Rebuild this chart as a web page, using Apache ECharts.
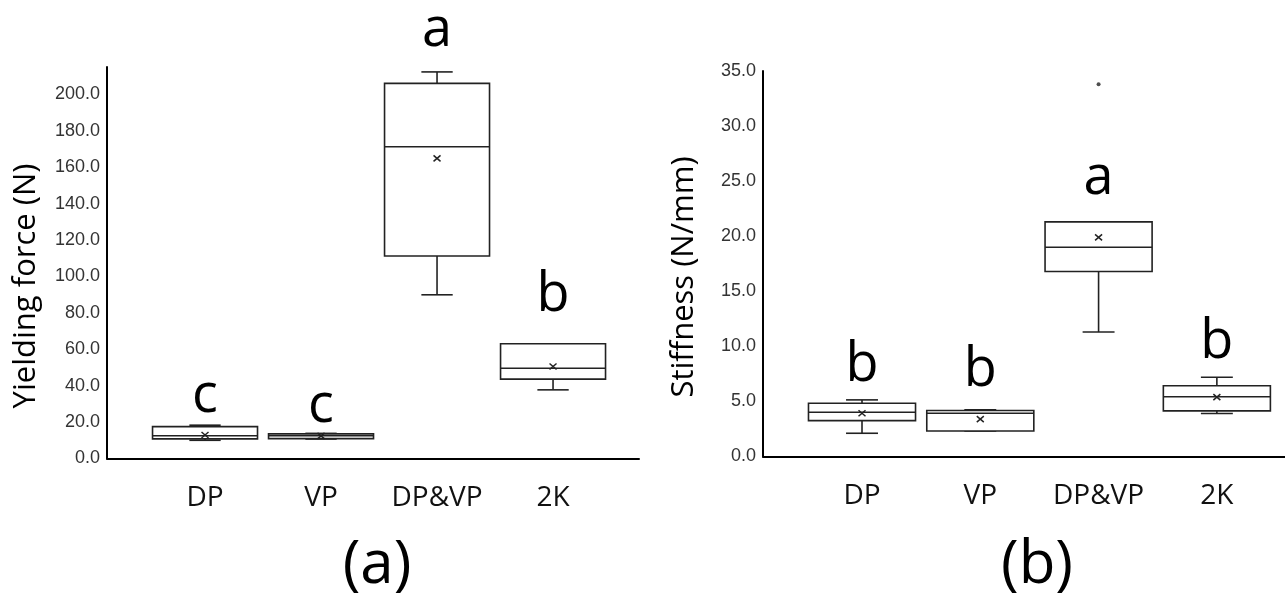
<!DOCTYPE html>
<html>
<head>
<meta charset="utf-8">
<script src="https://cdn.jsdelivr.net/npm/echarts@6/dist/echarts.min.js"></script>
<style>
html, body { margin: 0; padding: 0; background: #fff; }
#main { width: 1285px; height: 605px; }
</style>
</head>
<body>
<div id="main"></div>
<script>
var groups = ['DP', 'VP', 'DP&VP', '2K'];

// yielding force (N): [min, q1, median, q3, max]
var forceBox = [
    [10.0, 10.8, 12.5, 17.5, 18.3],
    [10.7, 10.9, 12.5, 13.5, 13.8],
    [89.9, 111.2, 171.2, 206.0, 212.3],
    [37.7, 43.6, 49.6, 63.0, 63.0]
];
var forceMean = [12.9, 12.4, 164.8, 50.5];
var forceLetters = ['c', 'c', 'a', 'b'];
var forceLetterY = [25.0, 19.7, 226.0, 80.6];

// stiffness (N/mm): [min, q1, median, q3, max]
var stiffBox = [
    [2.11, 3.26, 4.02, 4.84, 5.14],
    [2.32, 2.32, 3.93, 4.17, 4.23],
    [11.3, 16.8, 19.0, 21.3, 21.3],
    [3.90, 4.14, 5.42, 6.42, 7.20]
];
var stiffMean = [3.93, 3.39, 19.9, 5.39];
var stiffOutliers = [[2, 33.8]];
var stiffLetters = ['b', 'b', 'a', 'b'];
var stiffLetterY = [6.8, 6.35, 23.8, 8.85];

var lineColor = '#222';

function boxRows(box, mean) {
    return box.map(function (b, i) {
        return [i].concat(b).concat([mean[i]]);
    });
}
function letterRows(letters, ys) {
    return letters.map(function (t, i) {
        return [i, ys[i], t];
    });
}

function renderBox(params, api) {
    var x = api.value(0);
    var lo = api.coord([x, api.value(1)]);
    var q1 = api.coord([x, api.value(2)]);
    var md = api.coord([x, api.value(3)]);
    var q3 = api.coord([x, api.value(4)]);
    var hi = api.coord([x, api.value(5)]);
    var mn = api.coord([x, api.value(6)]);
    var half = api.size([0.905, 0])[0] / 2;
    var cap = api.size([0.27, 0])[0] / 2;
    var cx = lo[0];
    function ln(x1, y1, x2, y2, w) {
        return { type: 'line', shape: { x1: x1, y1: y1, x2: x2, y2: y2 },
            style: { stroke: lineColor, lineWidth: w || 1.6 } };
    }
    return {
        type: 'group',
        children: [
            ln(cx, q3[1], cx, hi[1]),
            ln(cx - cap, hi[1], cx + cap, hi[1]),
            ln(cx, q1[1], cx, lo[1]),
            ln(cx - cap, lo[1], cx + cap, lo[1]),
            { type: 'rect', shape: { x: cx - half, y: q3[1], width: half * 2, height: q1[1] - q3[1] },
              style: { fill: '#fff', stroke: lineColor, lineWidth: 1.6 } },
            ln(cx - half, md[1], cx + half, md[1], 1.4),
            ln(mn[0] - 3.5, mn[1] - 3, mn[0] + 3.5, mn[1] + 3, 1.5),
            ln(mn[0] - 3.5, mn[1] + 3, mn[0] + 3.5, mn[1] - 3, 1.5)
        ]
    };
}

function renderLetter(params, api) {
    var pt = api.coord([api.value(0), api.value(1)]);
    return {
        type: 'text',
        x: pt[0],
        y: pt[1] + 11,
        style: {
            text: api.value(2),
            font: '54px "Open Sans"',
            fill: '#000',
            align: 'center',
            verticalAlign: 'bottom'
        }
    };
}

function xAxisOpt(idx, min, max) {
    return {
        type: 'value', gridIndex: idx, min: min, max: max,
        axisLine: { show: true, onZero: false, lineStyle: { color: '#000', width: 2 } },
        axisTick: { show: false },
        splitLine: { show: false },
        axisLabel: {
            customValues: [0, 1, 2, 3],
            formatter: function (v) { return groups[Math.round(v)]; },
            margin: 26,
            fontSize: 28,
            fontFamily: 'Open Sans',
            color: '#111'
        }
    };
}

function yAxisOpt(idx, max, step) {
    return {
        type: 'value', gridIndex: idx, min: 0, max: max, interval: step,
        axisLine: { show: true, onZero: false, lineStyle: { color: '#000', width: 2 } },
        axisTick: { show: false },
        splitLine: { show: false },
        axisLabel: {
            formatter: function (v) { return v % step === 0 ? v.toFixed(1) : ''; },
            margin: 7,
            fontSize: 18,
            fontFamily: 'Liberation Sans',
            color: '#333'
        }
    };
}

var myChart = echarts.init(document.getElementById('main'));
var option = {
    backgroundColor: '#fff',
    animation: false,
    grid: [
        { left: 107, top: 67, width: 532, height: 391.5 },
        { left: 763, top: 71, width: 522, height: 385.5 }
    ],
    xAxis: [
        xAxisOpt(0, -0.845, 3.741),
        xAxisOpt(1, -0.837, 3.576)
    ],
    yAxis: [
        yAxisOpt(0, 215, 20),
        yAxisOpt(1, 35, 5)
    ],
    graphic: [
        { type: 'text', x: 26, y: 286, rotation: Math.PI / 2,
          style: { text: 'Yielding force (N)', font: '31px "Open Sans"', fill: '#000', align: 'center', verticalAlign: 'middle' } },
        { type: 'text', x: 684, y: 277, rotation: Math.PI / 2,
          style: { text: 'Stiffness (N/mm)', font: '31px "Open Sans"', fill: '#000', align: 'center', verticalAlign: 'middle' } },
        { type: 'text', x: 377, y: 566,
          style: { text: '(a)', font: '60px "Open Sans"', fill: '#000', align: 'center', verticalAlign: 'middle' } },
        { type: 'text', x: 1037, y: 566,
          style: { text: '(b)', font: '60px "Open Sans"', fill: '#000', align: 'center', verticalAlign: 'middle' } }
    ],
    series: [
        { type: 'custom', xAxisIndex: 0, yAxisIndex: 0, clip: false,
          renderItem: renderBox, data: boxRows(forceBox, forceMean) },
        { type: 'custom', xAxisIndex: 0, yAxisIndex: 0, clip: false,
          renderItem: renderLetter, data: letterRows(forceLetters, forceLetterY) },
        { type: 'custom', xAxisIndex: 1, yAxisIndex: 1, clip: false,
          renderItem: renderBox, data: boxRows(stiffBox, stiffMean) },
        { type: 'custom', xAxisIndex: 1, yAxisIndex: 1, clip: false,
          renderItem: renderLetter, data: letterRows(stiffLetters, stiffLetterY) },
        { type: 'scatter', xAxisIndex: 1, yAxisIndex: 1, symbolSize: 4,
          itemStyle: { color: lineColor }, data: stiffOutliers }
    ]
};
myChart.setOption(option);
</script>
</body>
</html>
